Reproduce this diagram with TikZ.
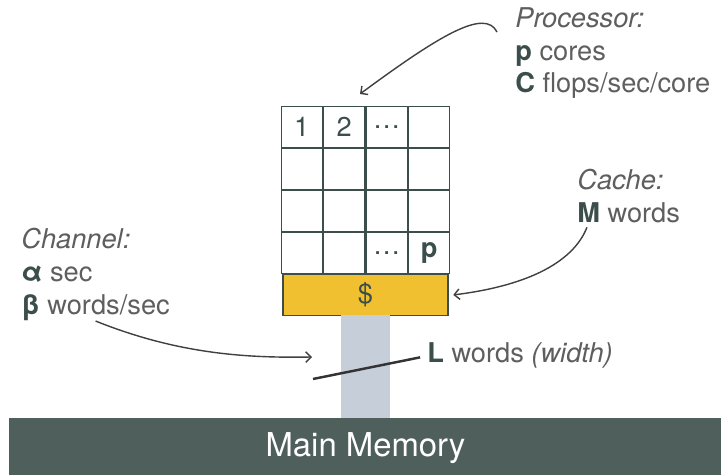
\documentclass[tikz,border=0pt]{standalone}
\usepackage{fontspec}
\setmainfont{TeX Gyre Heros}
\usetikzlibrary{arrows.meta, matrix, positioning}

\definecolor{slate}{HTML}{3C4E4C}
\definecolor{notegrey}{HTML}{5E5E5E}
\definecolor{cachegold}{HTML}{F1C030}
\definecolor{chanblue}{HTML}{C6CEDA}
\definecolor{memgreen}{HTML}{4F5F5B}
\newcommand{\keyval}[1]{\textbf{\color{slate}#1}}
\newcommand{\notesize}{\fontsize{15.5}{18.7}\selectfont}

\begin{document}
\begin{tikzpicture}[x=0.02cm, y=-0.02cm,
	cell/.style={draw=slate, line width=0.7pt, minimum width=0.825cm, minimum height=0.82cm, inner sep=0pt, outer sep=0pt, text=slate, font=\notesize},
	note/.style={align=left, anchor=north west, inner sep=0pt, text=notegrey, font=\notesize},
	pointer/.style={-{Straight Barb[length=3pt, width=6pt]}, line width=0.8pt, draw=black!75}]
		\useasboundingbox (0,0) rectangle (721,475);
		
		% processor
		\matrix[matrix of nodes, nodes in empty cells, nodes={cell, anchor=center}, row sep=0pt, column sep=0pt, inner sep=0pt, outer sep=0pt] (cpu) at (365.5,190) {
			1 & 2 & \dots &  \\
			  &   &       &  \\
			  &   &       &  \\
			  &   & \dots & \keyval{p} \\
		};
		\node[cell, fill=cachegold, minimum width=3.3cm, below = 0pt of cpu] (cache) {\$};
		
		% channel and memory
		\node[fill=chanblue, minimum width=1cm, minimum height=2.06cm, inner sep=0pt, outer sep=0pt, below = 0pt of cache] (chan) {};
		\node[fill=memgreen, minimum width=14.26cm, minimum height=1.18cm, outer sep=0pt, text=white, font=\fontsize{18.7}{22}\selectfont, below = 0pt of chan] (mem) {Main Memory};
		
		% notes
		\node[note] (proc) at (515,7) {\textit{Processor:}\\\keyval{p} cores\\\keyval{C} flops/sec/core};
		\node[note] (cachenote) at (577,169) {\textit{Cache:}\\\keyval{M} words};
		\node[note] (channote) at (21,228) {\textit{Channel:}\\\keyval{α} sec\\\keyval{β} words/sec};
		\node[note, anchor=base west] (width) at (427,363) {\keyval{L} words \textit{(width)}};
		
		% arrows
		\coordinate (proc-tip) at (360,94);
		\coordinate (chan-tip) at (312,357);
		\coordinate (width-end) at (313,379);
		\draw[pointer] ([shift={(-18,25)}]proc.north west) .. controls (485,8) and (440,35) .. (proc-tip);
		\draw[pointer] ([shift={(10,4)}]cachenote.south west) .. controls (570,270) and (510,288) .. ([xshift=3pt]cache.east);
		\draw[pointer] (channote.south) .. controls (180,355) and (250,358) .. (chan-tip);
		\draw[line width=1.4pt, draw=black!80, shorten <=4pt] (width.west) -- (width-end);
\end{tikzpicture}
\end{document}
